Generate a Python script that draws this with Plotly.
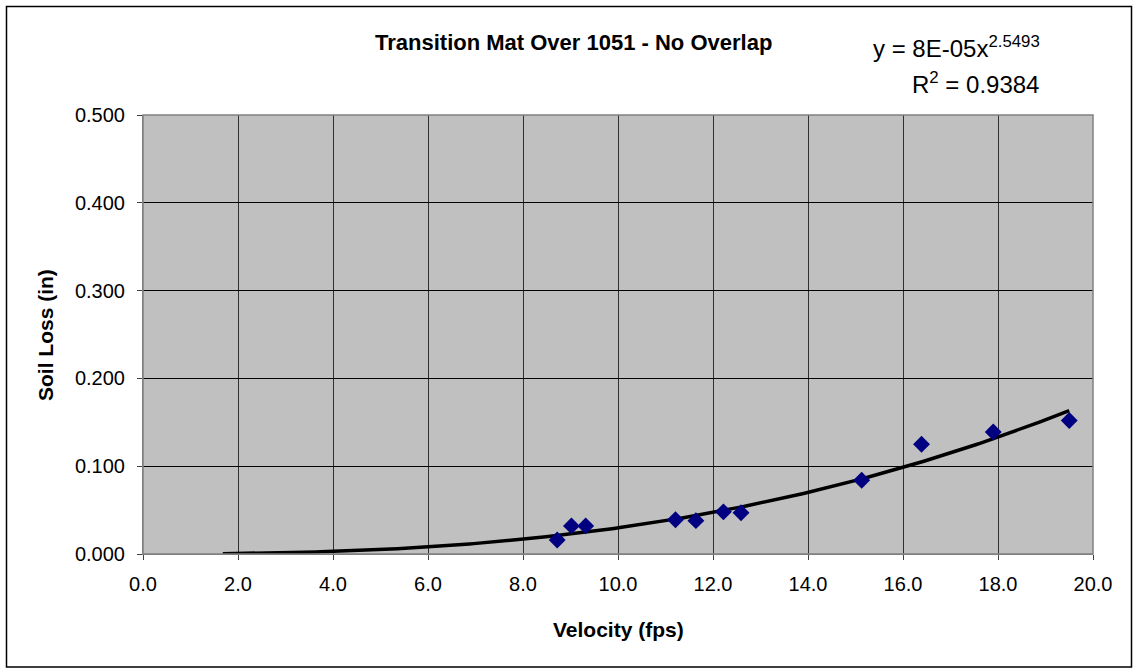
import numpy as np
import plotly.graph_objects as go

# Data
velocity = [8.72, 9.02, 9.32, 11.21, 11.64, 12.22, 12.59, 15.13, 16.39, 17.90, 19.50]
soil_loss = [0.016, 0.032, 0.032, 0.039, 0.038, 0.048, 0.047, 0.084, 0.125, 0.139, 0.152]

# Trendline (power) as displayed on chart
trend_coef = 8.4e-05
trend_exp = 2.5493
trend_x_start = 1.68
trend_x_end = 19.5

x_ticks = [0, 2, 4, 6, 8, 10, 12, 14, 16, 18, 20]
y_ticks = [0.0, 0.1, 0.2, 0.3, 0.4, 0.5]

W, H = 1136, 668
L, R, T, B = 143, 1093, 115, 554

tx = np.linspace(trend_x_start, trend_x_end, 200)
ty = trend_coef * tx ** trend_exp

fig = go.Figure()
fig.add_trace(go.Scatter(x=tx, y=ty, mode="lines",
                         line=dict(color="black", width=3.5), hoverinfo="skip"))
fig.add_trace(go.Scatter(x=velocity, y=soil_loss, mode="markers",
                         marker=dict(symbol="diamond", color="#000080", size=13,
                                     line=dict(width=0))))

def px(xp):
    return (xp - L) / (R - L)

def py(yp):
    return (B - yp) / (B - T)

font = "Liberation Sans, Arial, sans-serif"

fig.update_layout(
    width=W, height=H,
    margin=dict(l=L, r=W - R, t=T, b=H - B),
    paper_bgcolor="white",
    plot_bgcolor="#c0c0c0",
    showlegend=False,
    font=dict(family=font, color="black", size=20),
    xaxis=dict(range=[0, 20], tickvals=x_ticks, tickformat=".1f",
               showgrid=True, gridcolor="#303030", gridwidth=1,
               zeroline=False, showline=True, linecolor="#808080", linewidth=1,
               ticks="outside", ticklen=5, tickcolor="#404040",
               tickfont=dict(size=20), ticklabelstandoff=7),
    yaxis=dict(range=[0, 0.5], tickvals=y_ticks, tickformat=".3f",
               showgrid=True, gridcolor="black", gridwidth=1,
               zeroline=False, showline=True, linecolor="#808080", linewidth=1,
               ticks="outside", ticklen=5, tickcolor="#404040",
               tickfont=dict(size=20), ticklabelstandoff=8),
)

# plot area border
fig.add_shape(type="rect", xref="paper", yref="paper", x0=0, y0=0, x1=1, y1=1,
              line=dict(color="#808080", width=1.5), fillcolor="rgba(0,0,0,0)")
# outer chart border
fig.add_shape(type="rect", xref="paper", yref="paper",
              x0=px(6.5), x1=px(1131.5), y0=py(667), y1=py(6.5),
              line=dict(color="black", width=1.5), fillcolor="rgba(0,0,0,0)")

fig.add_annotation(text="<b>Transition Mat Over 1051 - No Overlap</b>",
                   xref="paper", yref="paper", x=px(573), y=py(43),
                   showarrow=False, font=dict(size=22), xanchor="center", yanchor="middle")
fig.add_annotation(text="y = 8E-05x<sup>2.5493</sup>",
                   xref="paper", yref="paper", x=px(1042), y=py(47),
                   showarrow=False, font=dict(size=24), xanchor="right", yanchor="middle")
fig.add_annotation(text="R<sup>2</sup> = 0.9384",
                   xref="paper", yref="paper", x=px(1041), y=py(83),
                   showarrow=False, font=dict(size=24), xanchor="right", yanchor="middle")
fig.add_annotation(text="<b>Velocity (fps)</b>",
                   xref="paper", yref="paper", x=px(618), y=py(629),
                   showarrow=False, font=dict(size=21), xanchor="center", yanchor="middle")
fig.add_annotation(text="<b>Soil Loss (in)</b>",
                   xref="paper", yref="paper", x=px(45), y=py(335),
                   showarrow=False, font=dict(size=21), textangle=-90,
                   xanchor="center", yanchor="middle")

fig.write_html("out.html", config={"displayModeBar": False},
               post_script="document.body.style.margin='0';document.body.style.overflow='hidden';")
